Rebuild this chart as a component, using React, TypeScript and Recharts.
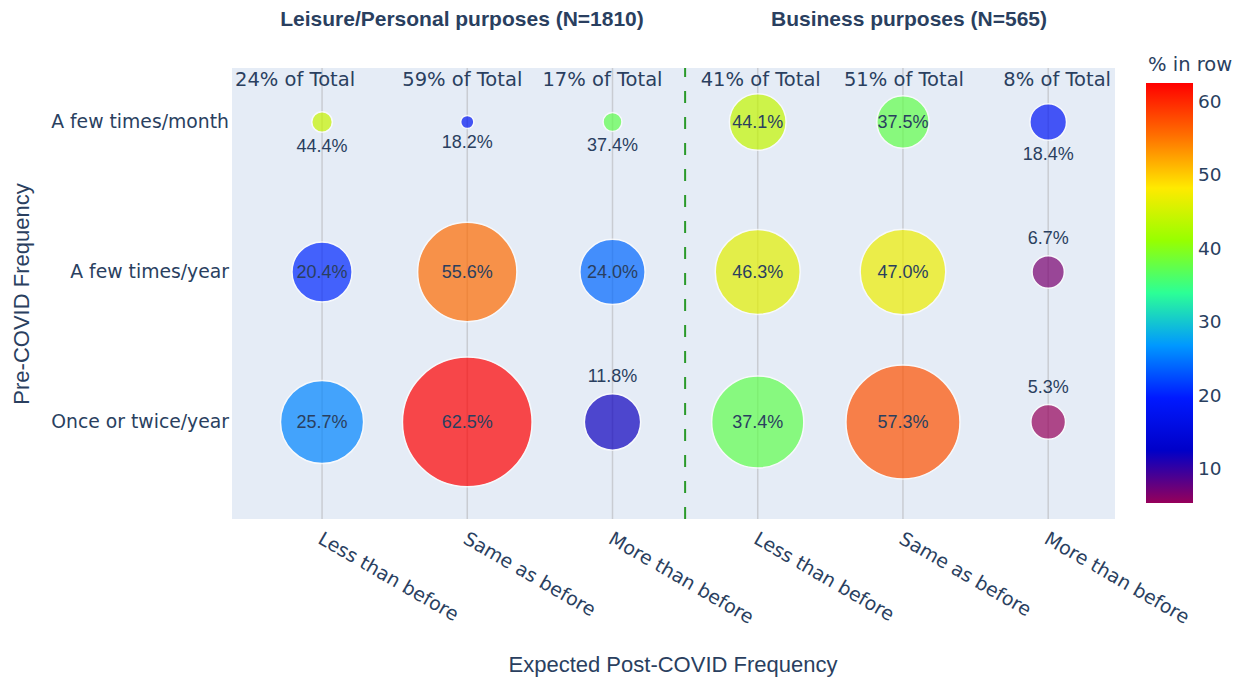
import React from 'react';
import {
  ScatterChart,
  Scatter,
  XAxis,
  YAxis,
  ZAxis,
  CartesianGrid,
  ReferenceLine,
  Customized,
} from 'recharts';

// ---------------- data ----------------
const groupTitles = ['Leisure/Personal purposes (N=1810)', 'Business purposes (N=565)'];
const postCovidCategories = ['Less than before', 'Same as before', 'More than before'];
const preCovidRows = ['A few times/month', 'A few times/year', 'Once or twice/year'];

// % in row (each pre-COVID row sums to 100)
const leisureMonthly = [44.4, 18.2, 37.4];
const leisureYearly = [20.4, 55.6, 24.0];
const leisureOnceTwice = [25.7, 62.5, 11.8];
const businessMonthly = [44.1, 37.5, 18.4];
const businessYearly = [46.3, 47.0, 6.7];
const businessOnceTwice = [37.4, 57.3, 5.3];

// share (% of group total) of each pre-COVID row
const leisureRowShare = [2.1, 38.9, 59.0];
const businessRowShare = [16.0, 34.2, 49.8];

// column shares shown above the plot
const leisureColTotals = [24, 59, 17];
const businessColTotals = [41, 51, 8];

const xTickValues = [0, 1, 2, 3, 4, 5];
const yTickValues = [0, 1, 2];
const colorbarTicks = [10, 20, 30, 40, 50, 60];
const colorbarTitle = '% in row';
const xAxisTitle = 'Expected Post-COVID Frequency';
const yAxisTitle = 'Pre-COVID Frequency';

// ---------------- derived tables ----------------
type Pt = { x: number; y: number; pct: number; size: number };
function buildGroup(rows: number[][], rowShare: number[], groupIndex: number): Pt[] {
  const out: Pt[] = [];
  rows.forEach((vals, r) =>
    vals.forEach((pct, c) =>
      out.push({ x: groupIndex * 3 + c, y: r, pct, size: (rowShare[r] * pct) / 100 })
    )
  );
  return out;
}
const leisureData = buildGroup([leisureMonthly, leisureYearly, leisureOnceTwice], leisureRowShare, 0);
const businessData = buildGroup([businessMonthly, businessYearly, businessOnceTwice], businessRowShare, 1);
const allCategories = [...postCovidCategories, ...postCovidCategories];
const colTotalData = [...leisureColTotals, ...businessColTotals].map((v, i) => ({
  x: i,
  y: -0.24,
  label: `${v}% of Total`,
}));

const allPct = [...leisureData, ...businessData].map((d) => d.pct);
const cmin = Math.min(...allPct);
const cmax = Math.max(...allPct);

// plotly "Rainbow" colorscale
const RAINBOW: [number, number[]][] = [
  [0, [150, 0, 90]],
  [0.125, [0, 0, 200]],
  [0.25, [0, 25, 255]],
  [0.375, [0, 152, 255]],
  [0.5, [44, 255, 150]],
  [0.625, [151, 255, 0]],
  [0.75, [255, 234, 0]],
  [0.875, [255, 111, 0]],
  [1, [255, 0, 0]],
];
function rainbow(v: number): string {
  const t = Math.max(0, Math.min(1, (v - cmin) / (cmax - cmin)));
  for (let i = 1; i < RAINBOW.length; i++) {
    const [t1, c1] = RAINBOW[i];
    const [t0, c0] = RAINBOW[i - 1];
    if (t <= t1) {
      const f = (t - t0) / (t1 - t0);
      const c = c0.map((a, k) => Math.round(a + (c1[k] - a) * f));
      return `rgb(${c[0]},${c[1]},${c[2]})`;
    }
  }
  return 'rgb(255,0,0)';
}

// ---------------- styles ----------------
const TEXT = '#2a3f5f';
const VERDANA = '"DejaVu Sans", Verdana, sans-serif';
const ARIAL = '"Liberation Sans", Arial, sans-serif';
const SIZE_PER_PCT = 114; // px^2 of r^2 per % of group total
const topLabelDx = [-27, -5, -10, 3, 1, 9];

const renderBubble = (props: any) => {
  const { cx, cy, payload } = props;
  const r =
    props.width && props.width > 0
      ? props.width / 2
      : Math.sqrt(Math.max(props.size ?? 0, 0) / Math.PI);
  const outside = payload.pct < 20 || r < 20;
  let ty = cy;
  if (outside) ty = payload.y === 0 ? cy + r + 13.5 : cy - r - 17.5;
  return (
    <g>
      <circle cx={cx} cy={cy} r={r} fill={rainbow(payload.pct)} stroke="#ffffff" strokeWidth={1.5} opacity={0.7} />
      <text
        x={cx}
        y={ty}
        textAnchor="middle"
        dominantBaseline="central"
        fontFamily={ARIAL}
        fontSize={18}
        fill={TEXT}
      >
        {payload.pct.toFixed(1)}%
      </text>
    </g>
  );
};

const renderColTotal = (props: any) => {
  const { cx, cy, payload } = props;
  return (
    <text
      x={cx + topLabelDx[payload.x]}
      y={cy}
      textAnchor="middle"
      fontFamily={VERDANA}
      fontSize={19.5}
      fill={TEXT}
    >
      {payload.label}
    </text>
  );
};

const XTick = (props: any) => {
  const { x, y, payload } = props;
  const ax = x + 2;
  return (
    <text
      x={ax}
      y={y}
      dy="0.76em"
      transform={`rotate(30, ${ax}, ${y})`}
      textAnchor="start"
      fontFamily={VERDANA}
      fontSize={19}
      fill={TEXT}
    >
      {allCategories[payload.value]}
    </text>
  );
};

const YTick = (props: any) => {
  const { x, y, payload } = props;
  return (
    <text x={x} y={y} textAnchor="end" dominantBaseline="central" fontFamily={VERDANA} fontSize={18.8} fill={TEXT}>
      {preCovidRows[payload.value]}
    </text>
  );
};

const Decorations = () => {
  const barX = 1146;
  const barY = 83;
  const barW = 47;
  const barH = 420;
  return (
    <g>
      <text x={462} y={26} textAnchor="middle" fontFamily={ARIAL} fontWeight="bold" fontSize={21} fill={TEXT}>
        {groupTitles[0]}
      </text>
      <text x={909} y={26} textAnchor="middle" fontFamily={ARIAL} fontWeight="bold" fontSize={21} fill={TEXT}>
        {groupTitles[1]}
      </text>
      <text x={673} y={672} textAnchor="middle" fontFamily={ARIAL} fontSize={22} fill={TEXT}>
        {xAxisTitle}
      </text>
      <text
        x={29}
        y={294}
        textAnchor="middle"
        transform="rotate(-90, 29, 294)"
        fontFamily={ARIAL}
        fontSize={22}
        fill={TEXT}
      >
        {yAxisTitle}
      </text>
      <defs>
        <linearGradient id="rainbowGrad" x1="0" y1="1" x2="0" y2="0">
          {RAINBOW.map(([t, c]) => (
            <stop key={t} offset={t} stopColor={`rgb(${c[0]},${c[1]},${c[2]})`} />
          ))}
        </linearGradient>
      </defs>
      <text x={1148} y={71} fontFamily={VERDANA} fontSize={19.5} fill={TEXT}>
        {colorbarTitle}
      </text>
      <rect x={barX} y={barY} width={barW} height={barH} fill="url(#rainbowGrad)" />
      {colorbarTicks.map((v) => (
        <text
          key={v}
          x={barX + barW + 5}
          y={barY + barH * (1 - (v - cmin) / (cmax - cmin))}
          dominantBaseline="central"
          fontFamily={VERDANA}
          fontSize={18.5}
          fill={TEXT}
        >
          {v}
        </text>
      ))}
    </g>
  );
};

export default function App() {
  return (
    <div style={{ position: 'absolute', left: 0, top: 0, width: 1239, height: 677, background: '#ffffff' }}>
      <ScatterChart width={1239} height={677} margin={{ top: 68, right: 124, bottom: 58, left: 32 }}>
        <CartesianGrid horizontal={false} vertical={false} fill="#E5ECF6" fillOpacity={1} />
        <XAxis
          type="number"
          dataKey="x"
          domain={[-0.62, 5.46]}
          ticks={xTickValues}
          interval={0}
          height={100}
          axisLine={false}
          tickLine={false}
          tickSize={0}
          tickMargin={11}
          tick={XTick}
          allowDataOverflow
        />
        <YAxis
          type="number"
          dataKey="y"
          domain={[-0.36, 2.647]}
          reversed
          ticks={yTickValues}
          interval={0}
          width={200}
          axisLine={false}
          tickLine={false}
          tickSize={0}
          tickMargin={3}
          tick={YTick}
          allowDataOverflow
        />
        <ZAxis type="number" dataKey="size" domain={[0, 40]} range={[0, 40 * SIZE_PER_PCT * Math.PI]} />
        {xTickValues.map((v) => (
          <ReferenceLine key={`g${v}`} x={v} stroke="#c9ccd2" strokeWidth={1.5} />
        ))}
        <ReferenceLine x={2.5} stroke="#2a9a2a" strokeWidth={2} strokeDasharray="12 14" />
        <Scatter data={leisureData} isAnimationActive={false} shape={renderBubble} />
        <Scatter data={businessData} isAnimationActive={false} shape={renderBubble} />
        <Scatter data={colTotalData} isAnimationActive={false} shape={renderColTotal} />
        <Customized component={Decorations} />
      </ScatterChart>
    </div>
  );
}
